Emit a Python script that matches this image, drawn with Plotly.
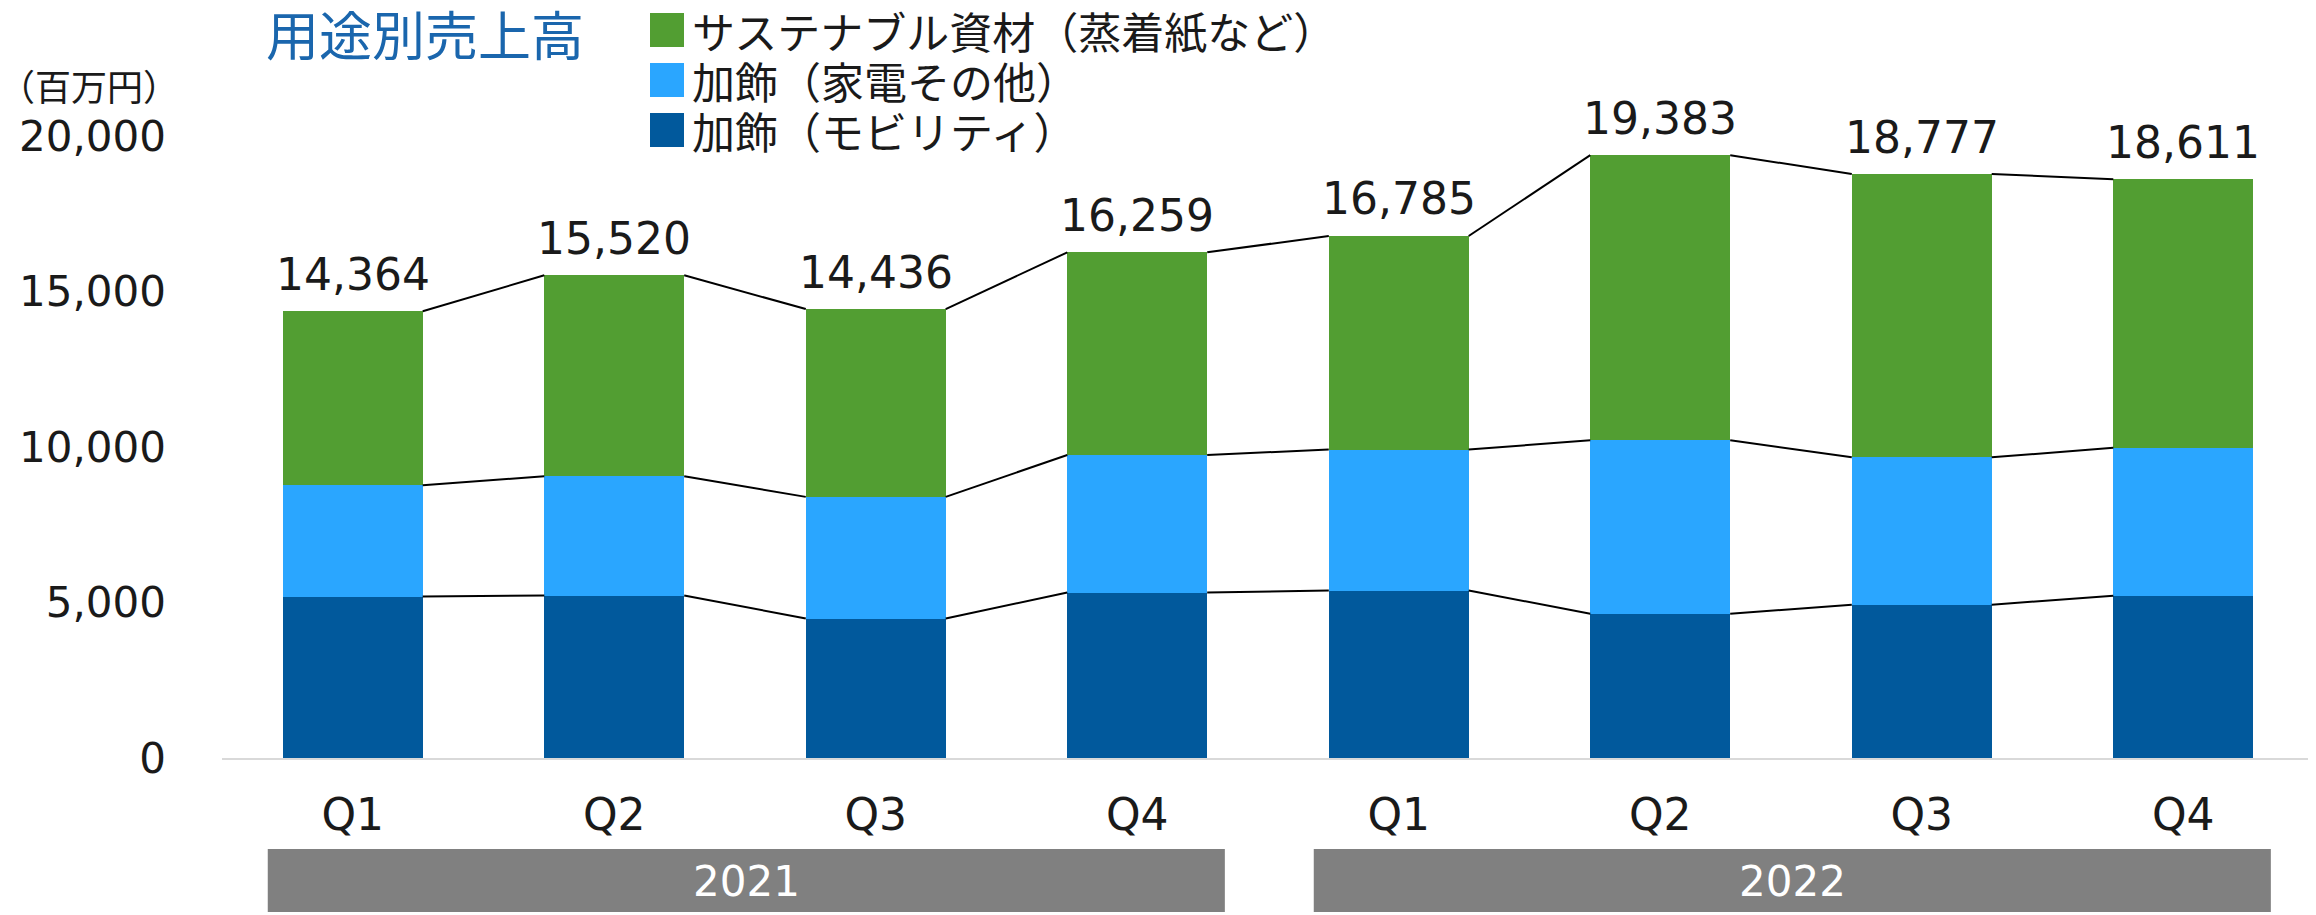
import plotly.graph_objects as go

# ---------------- data ----------------
quarters = ["Q1", "Q2", "Q3", "Q4", "Q1", "Q2", "Q3", "Q4"]
years = ["2021", "2022"]
quarters_per_year = [4, 4]

series_names = ["加飾（モビリティ）", "加飾（家電その他）", "サステナブル資材（蒸着紙など）"]
mobility = [5190, 5225, 4485, 5320, 5385, 4640, 4930, 5220]
home = [3580, 3836, 3911, 4425, 4534, 5578, 4740, 4752]
sustainable = [5594, 6459, 6040, 6514, 6866, 9165, 9107, 8639]

y_ticks = [0, 5000, 10000, 15000, 20000]
unit_label = "（百万円）"
chart_title = "用途別売上高"

# ---------------- style ----------------
colors = ["#01599C", "#2AA6FF", "#529E32"]
NUM_FONT = "DejaVu Sans"
JP_FONT = "Noto Sans CJK JP"
TEXT_COLOR = "#1a1a1a"
OFF = 8                      # page body margin
W, H = 2316 - OFF, 915 - OFF
PL, PR, PT, PB = 222, 2314, 136, 758   # plot box in page pixels
ML, MR, MT, MB = PL - OFF, W - (PR - OFF), PT - OFF, H - (PB - OFF)
PW, PH = PR - PL, PB - PT
BW = 0.535


def px_x(px):
    return (px - PL) / PW


def px_y(py):
    return (PB - py) / PH


x = list(range(len(quarters)))
series = [mobility, home, sustainable]

fig = go.Figure()
for name, vals, col in zip(series_names, series, colors):
    fig.add_trace(go.Bar(x=x, y=vals, name=name, width=BW,
                         marker=dict(color=col, line=dict(width=0)),
                         showlegend=False))

# cumulative levels and connector lines
levels = []
run = [0] * len(x)
for vals in series:
    run = [a + b for a, b in zip(run, vals)]
    levels.append(run)

for lvl in levels:
    xs, ys = [], []
    for i in range(len(x) - 1):
        xs += [x[i] + BW / 2, x[i + 1] - BW / 2, None]
        ys += [lvl[i], lvl[i + 1], None]
    fig.add_trace(go.Scatter(x=xs, y=ys, mode="lines",
                             line=dict(color="#000000", width=2),
                             showlegend=False, hoverinfo="skip"))

annotations = []
shapes = []

# total labels
totals = levels[-1]
for xi, t in zip(x, totals):
    annotations.append(dict(x=xi, y=t, xref="x", yref="y", text=f"{t:,}",
                            showarrow=False, yanchor="middle", yshift=37,
                            font=dict(family=NUM_FONT, size=44, color=TEXT_COLOR)))

# year boxes
start = 0
for yr, n in zip(years, quarters_per_year):
    x0 = x[start] - 0.325
    x1 = x[start + n - 1] + 0.335
    shapes.append(dict(type="rect", xref="x", yref="paper", x0=x0, x1=x1,
                       y0=px_y(912), y1=px_y(849), fillcolor="#808080",
                       line=dict(width=0), layer="above"))
    annotations.append(dict(x=(x0 + x1) / 2, y=px_y(881), xref="x", yref="paper",
                            text=yr, showarrow=False, yanchor="middle",
                            font=dict(family=NUM_FONT, size=42, color="white")))
    start += n

# manual legend (top to bottom: sustainable, home, mobility)
legend_rows = [30, 80, 130]
for row_y, idx in zip(legend_rows, [2, 1, 0]):
    shapes.append(dict(type="rect", xref="paper", yref="paper",
                       x0=px_x(650), x1=px_x(684),
                       y0=px_y(row_y + 17), y1=px_y(row_y - 17),
                       fillcolor=colors[idx], line=dict(width=0)))
    annotations.append(dict(x=px_x(690), y=px_y(row_y), xref="paper", yref="paper",
                            text=series_names[idx], showarrow=False,
                            xanchor="left", yanchor="middle",
                            font=dict(family=JP_FONT, size=43, color=TEXT_COLOR)))

# unit label
annotations.append(dict(x=px_x(89), y=px_y(85), xref="paper", yref="paper",
                        text=unit_label, showarrow=False,
                        xanchor="center", yanchor="middle",
                        font=dict(family=JP_FONT, size=36, color=TEXT_COLOR)))

fig.update_layout(
    width=W, height=H,
    margin=dict(l=ML, r=MR, t=MT, b=MB, pad=0),
    barmode="stack",
    plot_bgcolor="white", paper_bgcolor="white",
    title=dict(text=chart_title, x=(266 - OFF) / W, xref="container", xanchor="left",
               y=1 - (37 - OFF) / H, yref="container", yanchor="middle",
               font=dict(family=JP_FONT, size=53, color="#1a66ad")),
    xaxis=dict(range=[-0.5, 7.5], tickmode="array", tickvals=x, ticktext=quarters,
               showgrid=False, zeroline=False, showline=True,
               linecolor="#d9d9d9", linewidth=2, ticks="",
               ticklabelstandoff=17,
               tickfont=dict(family=NUM_FONT, size=44, color=TEXT_COLOR)),
    yaxis=dict(range=[0, 20000], tickmode="array", tickvals=y_ticks,
               tickformat=",", showgrid=False, zeroline=False, showline=False,
               ticks="", ticklabelstandoff=55,
               tickfont=dict(family=NUM_FONT, size=42, color=TEXT_COLOR)),
    annotations=annotations,
    shapes=shapes,
    showlegend=False,
)

fig.write_html("out.html")
